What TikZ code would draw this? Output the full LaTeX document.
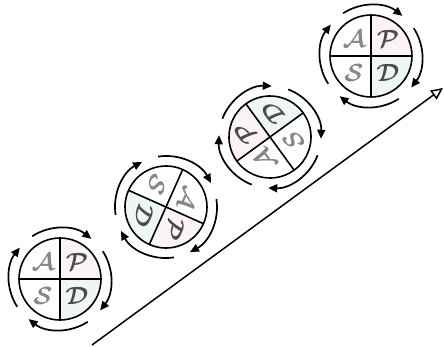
\documentclass[tikz,border=0pt]{standalone}
\usepackage{amsmath,amssymb}
\usepackage{tikz}
\usetikzlibrary{arrows.meta}
\definecolor{tintP}{RGB}{252,243,245}
\definecolor{tintD}{RGB}{238,247,244}
\definecolor{softgray}{RGB}{135,135,135}
\definecolor{deepgray}{RGB}{75,75,75}

\tikzset{
  wheel/.style={line width=1.6pt},
  turn/.style={line width=1.7pt, -{Triangle[length=9pt,width=8pt]}},
  lettr/.style={font=\fontsize{29}{29}\selectfont, inner sep=0pt},
}

\begin{document}
\begin{tikzpicture}[x=1pt,y=1pt]
  \useasboundingbox (0,0) rectangle (444,346);

  % four wheels, each turned further clockwise
  \foreach \cx/\cy/\rot [count=\i] in {60/67/0, 166/139/-114, 270/209/-234, 371/290/-360}{
    \begin{scope}[shift={(\cx,\cy)}, rotate=\rot]
      \fill[tintP] (0,0) -- (0:41) arc[start angle=0, end angle=90, radius=41] -- cycle;
      \fill[tintD] (0,0) -- (-90:41) arc[start angle=-90, end angle=0, radius=41] -- cycle;
      \draw[wheel] (0,0) circle[radius=41];
      \draw[wheel] (-41,0) -- (41,0);
      \draw[wheel] (0,-41) -- (0,41);
      \foreach \a in {90,0,-90,180}
        \draw[turn] (\a+33:51) arc[start angle=\a+33, end angle=\a-38, radius=51];
      \node[lettr, softgray, rotate=\rot] (A\i) at (135:24) {$\boldsymbol{\mathcal{A}}$};
      \node[lettr, deepgray, rotate=\rot] (P\i) at (45:24) {$\boldsymbol{\mathcal{P}}$};
      \node[lettr, softgray, rotate=\rot] (S\i) at (-135:24) {$\boldsymbol{\mathcal{S}}$};
      \node[lettr, deepgray, rotate=\rot] (D\i) at (-45:24) {$\boldsymbol{\mathcal{D}}$};
    \end{scope}
  }

  % long arrow under the wheels
  \coordinate (tail) at (92,1);
  \coordinate (head) at (443,258);
  \draw[line width=1.5pt, -{Triangle[open, length=12pt, width=11pt]}] (tail) -- (head);
\end{tikzpicture}
\end{document}
